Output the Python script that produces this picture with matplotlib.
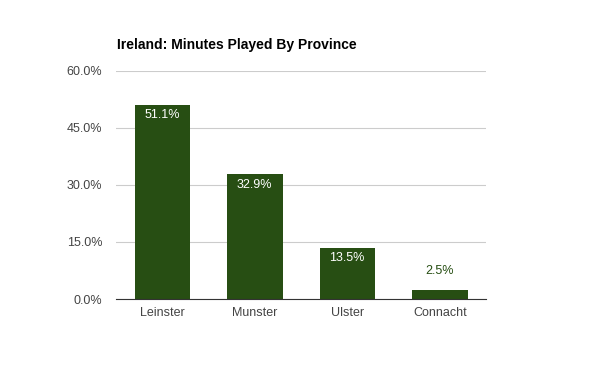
import numpy as np
import matplotlib.pyplot as plt

provinces = ['Leinster', 'Munster', 'Ulster', 'Connacht']
minutes_pct = [51.1, 32.9, 13.5, 2.5]
yticks = [0, 15, 30, 45, 60]

bar_color = '#274e13'

fig = plt.figure(figsize=(6, 3.71), dpi=100)
ax = fig.add_axes([116 / 600, 1 - 299 / 371, 370 / 600, 228 / 371])

x = np.arange(len(provinces))
bars = ax.bar(x, minutes_pct, width=0.6, color=bar_color, zorder=3)

ax.set_xlim(-0.5, len(provinces) - 0.5)
ax.set_ylim(0, 60)
ax.set_yticks(yticks)
ax.set_yticklabels(['%.1f%%' % v for v in yticks])
ax.set_xticks(x)
ax.set_xticklabels(provinces)
ax.tick_params(axis='both', length=0, labelsize=9, colors='#444444')
ax.tick_params(axis='y', pad=10)
ax.tick_params(axis='x', pad=6)
ax.yaxis.grid(True, color='#cccccc', lw=0.8, zorder=0)
for s in ['top', 'right', 'left']:
    ax.spines[s].set_visible(False)
ax.spines['bottom'].set_color('#333333')
ax.spines['bottom'].set_zorder(4)

# value labels: inside for tall bars, above for short ones
for b, v in zip(bars, minutes_pct):
    cx = b.get_x() + b.get_width() / 2
    if v > 10:
        ax.text(cx, v - 1.2, '%.1f%%' % v, ha='center', va='top',
                color='white', fontsize=9, zorder=5)
    else:
        ax.text(cx, v + 3.2, '%.1f%%' % v, ha='center', va='bottom',
                color=bar_color, fontsize=9, zorder=5)

fig.text(117 / 600, 1 - 45 / 371, 'Ireland: Minutes Played By Province',
         fontsize=10, fontweight='bold', family='Liberation Sans', va='center')

for lbl in ax.get_xticklabels() + ax.get_yticklabels():
    lbl.set_family('Liberation Sans')
for t in ax.texts:
    t.set_family('Liberation Sans')

fig.savefig('out.png', dpi=100)
